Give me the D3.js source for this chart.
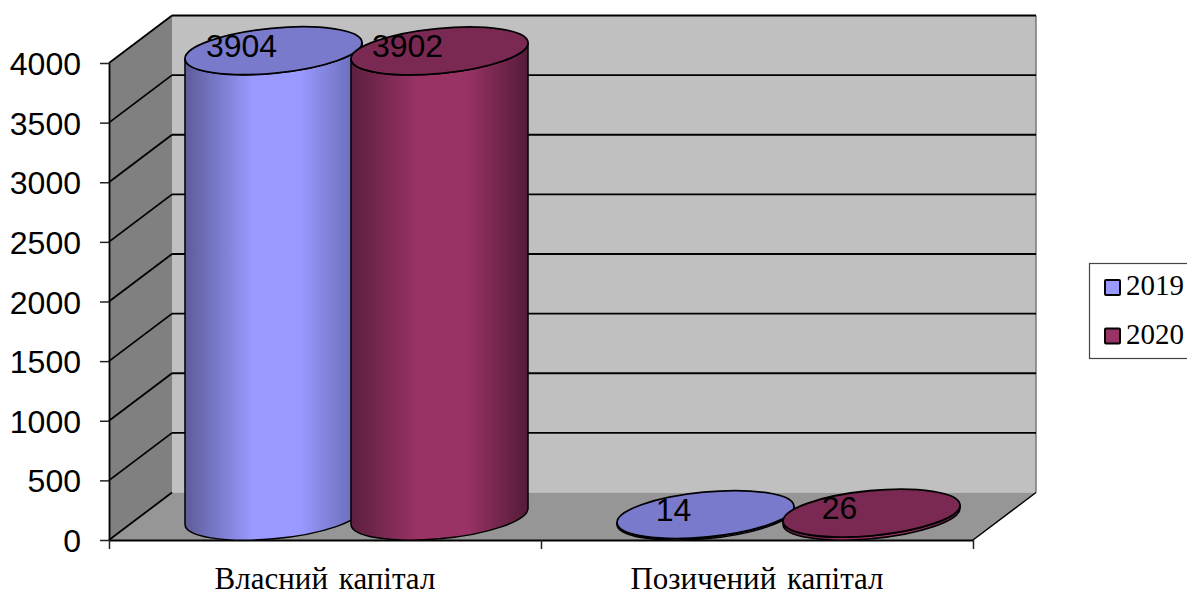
<!DOCTYPE html>
<html>
<head>
<meta charset="utf-8">
<script src="https://cdn.jsdelivr.net/npm/d3@7/dist/d3.min.js"></script>
<style>
  html, body { margin: 0; padding: 0; background: #fff; overflow: hidden; }
  svg { display: block; }
</style>
</head>
<body>
<svg id="chart" width="1187" height="592"></svg>
<script>
// Capital structure by year
const categories = ["Власний капітал", "Позичений капітал"];
const seriesNames = ["2019", "2020"];
const values2019 = [3904, 14];
const values2020 = [3902, 26];
const yTicks = [0, 500, 1000, 1500, 2000, 2500, 3000, 3500, 4000];

const seriesColors = { "2019": "#9999ff", "2020": "#993366" };
const seriesTops = { "2019": "#7a7acc", "2020": "#7a2952" };
const seriesEdgeLeft = { "2019": "#5c5c99", "2020": "#5c1f3d" };
const seriesEdgeRight = { "2019": "#6666b0", "2020": "#541c38" };
const seriesValues = { "2019": values2019, "2020": values2020 };

const sansFont = "'Liberation Sans', Arial, sans-serif";
const serifFont = "'Liberation Serif', 'Times New Roman', serif";

const svg = d3.select("#chart");
const defs = svg.append("defs");

// Front plane of the 3D box and the depth offset to the back wall
const plot = { left: 109, right: 973, bottom: 540, top: 63 };
const depth = { dx: 63, dy: -47.5 };

const y = d3.scaleLinear().domain([0, 4000]).range([plot.bottom, plot.top]);
const x = d3.scaleBand().domain(categories).range([plot.left, plot.right]);
const inner = d3.scalePoint().domain(seriesNames).range([-83, 83]);

// Walls and floor
const poly = pts => "M" + pts.map(p => p.join(",")).join("L") + "Z";
const backL = plot.left + depth.dx, backR = plot.right + depth.dx;
const backB = y(0) + depth.dy, backT = y(4000) + depth.dy;

svg.append("path").attr("fill", "#c0c0c0")
  .attr("d", poly([[backL, backT], [backR, backT], [backR, backB], [backL, backB]]));
svg.append("path").attr("fill", "#808080")
  .attr("d", poly([[plot.left, y(0)], [backL, backB], [backL, backT], [plot.left, y(4000)]]));
svg.append("path").attr("fill", "#969696")
  .attr("d", poly([[plot.left, y(0)], [backL, backB], [backR, backB], [plot.right, y(0)]]));
svg.append("line").attr("x1", backR).attr("x2", backR).attr("y1", backT).attr("y2", backB)
  .attr("stroke", "#777").attr("stroke-width", 1.5);

// Gridlines run across the back wall and down the side wall
const grid = svg.append("g").attr("fill", "none").attr("stroke", "#000").attr("stroke-width", 1.8);
yTicks.forEach(v => {
  const yy = y(v);
  grid.append("path").attr("d", `M${plot.left},${yy}L${backL},${yy + depth.dy}`);
  if (v > 0) grid.append("path").attr("d", `M${backL},${yy + depth.dy}L${backR},${yy + depth.dy}`);
});
grid.append("path").attr("stroke-width", 1.5)
  .attr("d", `M${plot.right},${y(0)}L${backR},${backB}`);

// Axes
const yAxis = d3.axisLeft(y).tickValues(yTicks).tickSize(9).tickSizeOuter(0).tickPadding(19).tickFormat(d3.format("d"));
const yG = svg.append("g").attr("transform", `translate(${plot.left},0)`).call(yAxis);
yG.select(".domain").attr("stroke", "#000").attr("stroke-width", 1.8);
yG.selectAll(".tick line").attr("stroke", "#222").attr("stroke-width", 1.5);
yG.selectAll("text").attr("font-family", sansFont).attr("font-size", 32).attr("fill", "#000").attr("dy", "0.36em");

const xTicks = [plot.left, plot.left + x.bandwidth(), plot.right];
const xAxis = d3.axisBottom(d3.scaleIdentity().domain([plot.left, plot.right]))
  .tickValues(xTicks).tickSize(9).tickSizeOuter(0).tickFormat("");
const xG = svg.append("g").attr("transform", `translate(0,${plot.bottom})`).call(xAxis);
xG.select(".domain").attr("stroke", "#000").attr("stroke-width", 2);
xG.selectAll(".tick line").attr("stroke", "#222").attr("stroke-width", 1.5);

svg.append("g").selectAll("text").data(categories).join("text")
  .attr("x", d => x(d) + x.bandwidth() / 2)
  .attr("y", 589)
  .attr("text-anchor", "middle")
  .attr("font-family", serifFont)
  .attr("font-size", 31)
  .attr("word-spacing", 3)
  .attr("fill", "#000")
  .text(d => d);

// Cylinders
const rx = 88.9, ry = 22.5, tilt = -5.5;
const tiltRad = tilt * Math.PI / 180;
const halfW = Math.sqrt(rx * rx * Math.cos(tiltRad) ** 2 + ry * ry * Math.sin(tiltRad) ** 2);
const skew = (rx * rx - ry * ry) * Math.sin(-tiltRad) * Math.cos(tiltRad) / halfW;

seriesNames.forEach(name => {
  const grad = defs.append("linearGradient").attr("id", "side" + name);
  [[0, seriesEdgeLeft[name]], [0.38, seriesColors[name]], [0.65, seriesColors[name]], [1, seriesEdgeRight[name]]]
    .forEach(([o, c]) => grad.append("stop").attr("offset", o).attr("stop-color", c));
});

const cylinders = svg.append("g");
const labels = svg.append("g");
categories.forEach((cat, i) => {
  seriesNames.forEach(name => {
    const value = seriesValues[name][i];
    const cx = x(cat) + x.bandwidth() / 2 + depth.dx / 2 + inner(name);
    const yBase = y(0) + depth.dy / 2;
    const yTop = y(value) + depth.dy / 2;
    const arc = `A${rx},${ry} ${tilt} 0 0`;
    const side = `M${cx - halfW},${yTop + skew}L${cx - halfW},${yBase + skew}` +
      `${arc} ${cx + halfW},${yBase - skew}L${cx + halfW},${yTop - skew}` +
      `A${rx},${ry} ${tilt} 0 1 ${cx - halfW},${yTop + skew}Z`;
    cylinders.append("path").attr("d", side)
      .attr("fill", `url(#side${name})`)
      .attr("stroke", "#000").attr("stroke-width", 1.5);
    cylinders.append("ellipse")
      .attr("rx", rx).attr("ry", ry)
      .attr("transform", `translate(${cx},${yTop}) rotate(${tilt})`)
      .attr("fill", seriesTops[name])
      .attr("stroke", "#000").attr("stroke-width", 1.8);
    labels.append("text")
      .attr("x", cx - 32)
      .attr("y", yTop + 6)
      .attr("text-anchor", "middle")
      .attr("font-family", sansFont)
      .attr("font-size", 32)
      .attr("fill", "#000")
      .text(value);
  });
});

// Legend, cut off by the right edge of the page
const legend = svg.append("g");
legend.append("rect").attr("x", 1089.5).attr("y", 263.5).attr("width", 110).attr("height", 95)
  .attr("fill", "#fff").attr("stroke", "#444").attr("stroke-width", 1.2);
const legendRow = d3.scalePoint().domain(seriesNames).range([287, 335.5]);
seriesNames.forEach(name => {
  const ly = legendRow(name);
  legend.append("rect").attr("x", 1105).attr("y", ly - 7).attr("width", 15).attr("height", 15).attr("rx", 1)
    .attr("fill", seriesColors[name]).attr("stroke", "#000").attr("stroke-width", 2);
  legend.append("text").attr("x", 1126).attr("y", ly + 8)
    .attr("font-family", serifFont).attr("font-size", 29).attr("fill", "#000")
    .text(name);
});
</script>
</body>
</html>
